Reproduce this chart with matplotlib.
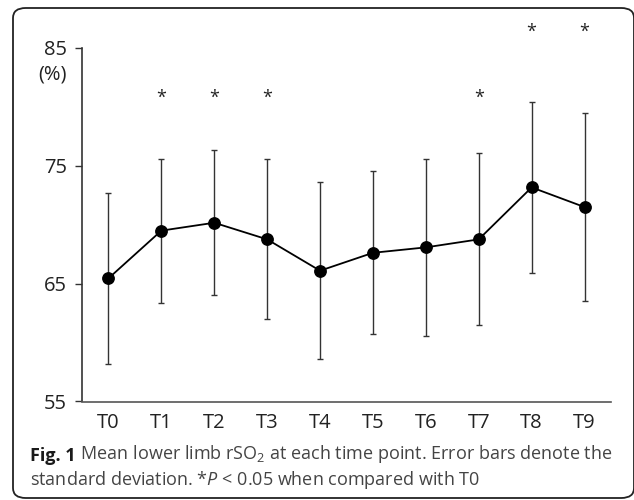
import numpy as np
import matplotlib.pyplot as plt
from matplotlib.patches import FancyBboxPatch

plt.rcParams['font.family'] = ['Open Sans', 'DejaVu Sans']
plt.rcParams['mathtext.fontset'] = 'custom'
plt.rcParams['mathtext.rm'] = 'Open Sans'
plt.rcParams['mathtext.it'] = 'Open Sans:italic'
plt.rcParams['mathtext.bf'] = 'Open Sans:bold'

# data
labels = ['T0', 'T1', 'T2', 'T3', 'T4', 'T5', 'T6', 'T7', 'T8', 'T9']
means = [65.45, 69.5, 70.17, 68.76, 66.1, 67.62, 68.08, 68.76, 73.17, 71.5]
sds = [7.25, 6.1, 6.15, 6.8, 7.5, 6.9, 7.5, 7.3, 7.25, 7.95]
significant = [False, True, True, True, False, False, False, True, True, True]

fig = plt.figure(figsize=(6.34, 5.0), dpi=100)
ax = fig.add_axes([82 / 634, 1 - 401.5 / 500, 529 / 634, 353.5 / 500])

x = np.arange(len(labels))
ax.errorbar(x, means, yerr=sds, fmt='none', ecolor='#333333', elinewidth=1.0,
            capsize=2, capthick=1.0, zorder=2)
ax.plot(x, means, color='black', lw=1.3, marker='o', ms=8.2, zorder=3)

# significance markers above the bars
for xi, m, s, sig in zip(x, means, sds, significant):
    if sig:
        ystar = 86.35 if m + s > 78 else 80.75
        ax.text(xi, ystar, '*', ha='center', va='center', fontsize=13,
                color='#222222', clip_on=False)

ax.set_xlim(-0.5, len(labels) - 0.5)
ax.set_ylim(55, 85)
ax.set_yticks([55, 65, 75, 85])
ax.set_xticks(x)
ax.set_xticklabels(labels)
ax.tick_params(axis='x', length=0, pad=8, labelsize=14.5, labelcolor='#222222')
ax.tick_params(axis='y', length=5, width=1.0, color='#333333', pad=6,
               labelsize=14.5, labelcolor='#222222')
for side in ['top', 'right']:
    ax.spines[side].set_visible(False)
ax.spines['left'].set_color('#333333')
ax.spines['bottom'].set_color('#555555')
ax.spines['left'].set_linewidth(1.2)
ax.spines['bottom'].set_linewidth(1.2)
ax.text(-0.029, 0.926, '(%)', transform=ax.transAxes, ha='right', va='center',
        fontsize=14.5, color='#222222')

# rounded frame around the figure
frame = FancyBboxPatch((13 / 634, 2 / 500), 621 / 634, 490 / 500,
                       boxstyle='round,pad=0,rounding_size=0.02',
                       transform=fig.transFigure, fill=False,
                       edgecolor='#222222', lw=1.3, clip_on=False)
fig.patches.append(frame)

# caption
t1 = fig.text(30 / 634, 1 - 461 / 500, 'Fig. 1', fontsize=13,
              fontweight='bold', color='#1a1a1a', va='baseline')
ax.annotate(r' Mean lower limb rSO$_2$ at each time point. Error bars denote the',
            xy=(1, 0), xycoords=t1, va='bottom', ha='left', fontsize=13,
            color='#444444', annotation_clip=False)
fig.text(30 / 634, 1 - 485 / 500,
         r'standard deviation. *$\mathit{P}$ < 0.05 when compared with T0',
         fontsize=13, color='#444444', va='baseline')

fig.savefig('out.png', dpi=100)
